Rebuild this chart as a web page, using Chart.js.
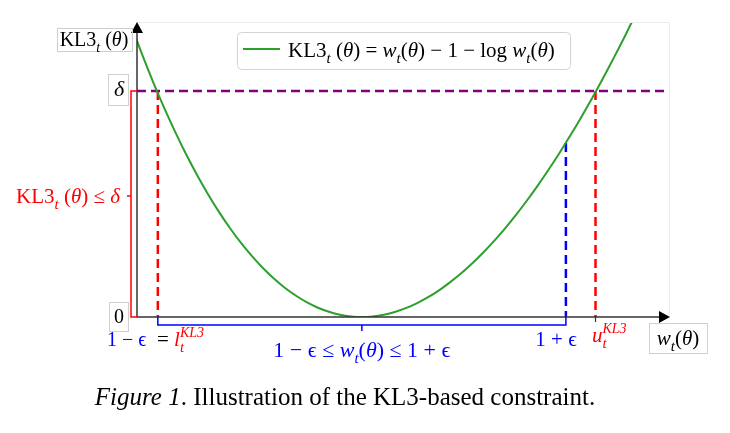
<!DOCTYPE html>
<html>
<head>
<meta charset="utf-8">
<script src="https://cdn.jsdelivr.net/npm/chart.js@4.4.1/dist/chart.umd.min.js"></script>
<style>
  body { margin: 0; background: #fff; }
  #wrap { width: 730px; height: 433px; position: relative; }
</style>
</head>
<body>
<div id="wrap"><canvas id="myChart"></canvas></div>
<script>
// curve: w_t(theta) -> KL3_t(theta)
const wValues = [0.79, 0.80, 0.81, 0.82, 0.83, 0.84, 0.85, 0.86, 0.87, 0.88, 0.89, 0.90, 0.91, 0.92, 0.93, 0.94, 0.95, 0.96, 0.97, 0.98, 0.99,
                 1.00, 1.01, 1.02, 1.03, 1.04, 1.05, 1.06, 1.07, 1.08, 1.09, 1.10, 1.11, 1.12, 1.13, 1.14, 1.15, 1.16, 1.17, 1.18, 1.19,
                 1.20, 1.21, 1.22, 1.23, 1.24, 1.25];
const klValues = [0.02572, 0.02314, 0.02072, 0.01845, 0.01633, 0.01435, 0.01252, 0.01082, 0.00926, 0.00783, 0.00653, 0.00536, 0.00431,
                  0.00338, 0.00257, 0.00188, 0.00129, 0.00082, 0.00046, 0.00020, 0.00005, 0, 0.00005, 0.00020, 0.00044, 0.00078,
                  0.00121, 0.00173, 0.00234, 0.00304, 0.00382, 0.00469, 0.00564, 0.00667, 0.00778, 0.00897, 0.01024, 0.01158,
                  0.01300, 0.01449, 0.01605, 0.01768, 0.01938, 0.02115, 0.02299, 0.02489, 0.02686];

const delta = 0.02;
const lowerW = 0.814;      // 1 - eps = l_t
const upperW = 1.213;      // u_t
const epsHighW = 1.186;    // 1 + eps
const klAtEpsHigh = 0.0154;
const xRange = [0.795, 1.28];
const yRange = [0, 0.0261];

const SERIF = '"Liberation Serif", "DejaVu Serif", serif';
const RED = '#ff0000', BLUE = '#0000ff', GREEN = '#2ca02c', PURPLE = '#800080';

function drawRich(ctx, parts, x, y, align, size, color) {
  const fnt = p => (p.it ? 'italic ' : '') + Math.round(size * (p.sc || 1)) + 'px ' + SERIF;
  const wOf = p => { ctx.font = fnt(p); return ctx.measureText(p.t).width; };
  const adv = p => p.stack ? Math.max(...p.stack.map(wOf)) : wOf(p);
  const total = parts.reduce((s, p) => s + adv(p), 0);
  let cx = align === 'center' ? x - total / 2 : align === 'right' ? x - total : x;
  ctx.textAlign = 'left';
  ctx.textBaseline = 'alphabetic';
  parts.forEach(p => {
    (p.stack || [p]).forEach(q => {
      ctx.font = fnt(q);
      ctx.fillStyle = q.c || p.c || color;
      ctx.fillText(q.t, cx, y + (q.dy || 0) * size);
    });
    cx += adv(p);
  });
  return total;
}

const sub = t => ({ t: t, it: 1, sc: 0.7, dy: 0.28 });
const sup = t => ({ t: t, it: 1, sc: 0.65, dy: -0.45 });
const klText = [{ t: 'KL3' }, sub('t'), { t: ' (' }, { t: 'θ', it: 1 }, { t: ')' }];
const wText = [{ t: 'w', it: 1 }, sub('t'), { t: '(' }, { t: 'θ', it: 1 }, { t: ')' }];

function box(ctx, x1, y1, x2, y2) {
  ctx.strokeStyle = '#cfcfcf';
  ctx.lineWidth = 1;
  ctx.strokeRect(x1 + 0.5, y1 + 0.5, x2 - x1, y2 - y1);
}

function line(ctx, pts, color, width) {
  ctx.strokeStyle = color;
  ctx.lineWidth = width;
  ctx.setLineDash([]);
  ctx.beginPath();
  pts.forEach((p, i) => i ? ctx.lineTo(p[0], p[1]) : ctx.moveTo(p[0], p[1]));
  ctx.stroke();
}

const annotate = {
  id: 'annotate',
  afterDraw(chart) {
    const ctx = chart.ctx, ca = chart.chartArea;
    const px = v => chart.scales.x.getPixelForValue(v);
    const py = v => chart.scales.y.getPixelForValue(v);
    const x0 = ca.left, y0 = py(0), yD = py(delta);
    ctx.save();

    // faint frame
    line(ctx, [[x0, ca.top + 0.5], [ca.right + 0.5, ca.top + 0.5], [ca.right + 0.5, y0]], '#ececec', 1);

    // axes with arrows
    line(ctx, [[x0, y0], [x0, ca.top + 8]], '#333', 1.5);
    line(ctx, [[x0, y0], [ca.right - 8, y0]], '#333', 1.5);
    ctx.fillStyle = '#000';
    ctx.beginPath();
    ctx.moveTo(x0, ca.top); ctx.lineTo(x0 - 6, ca.top + 11); ctx.lineTo(x0 + 6, ca.top + 11); ctx.closePath(); ctx.fill();
    ctx.beginPath();
    ctx.moveTo(ca.right + 1, y0); ctx.lineTo(ca.right - 10, y0 - 6); ctx.lineTo(ca.right - 10, y0 + 6); ctx.closePath(); ctx.fill();

    // red bracket on the y side
    line(ctx, [[x0, yD], [x0 - 6, yD], [x0 - 6, y0], [x0, y0]], RED, 1.5);
    const yMid = (yD + y0) / 2 - 8;
    line(ctx, [[x0 - 6, yMid], [x0 - 10, yMid]], RED, 1.5);
    drawRich(ctx, klText.concat([{ t: ' ≤ ' }, { t: 'δ', it: 1 }]), 120, yMid + 7, 'right', 21, RED);

    // blue bracket under the x axis
    const xl = px(lowerW), xh = px(epsHighW);
    line(ctx, [[xl, y0], [xl, y0 + 8], [xh, y0 + 8], [xh, y0]], BLUE, 1.5);
    line(ctx, [[px(1), y0 + 8], [px(1), y0 + 14]], BLUE, 1.5);
    line(ctx, [[px(upperW), y0], [px(upperW), y0 + 5]], '#333', 1.2);

    // y labels
    box(ctx, 57, 28, 132, 51);
    drawRich(ctx, klText, 94, 46, 'center', 20, '#000');
    box(ctx, 108, 74, 128, 105);
    drawRich(ctx, [{ t: 'δ', it: 1 }], 119, 96, 'center', 22, '#000');
    box(ctx, 109, 302, 128, 331);
    drawRich(ctx, [{ t: '0' }], 119, 323, 'center', 20, '#000');

    // x labels
    drawRich(ctx, [{ t: '1 − ϵ' }], 107, 346, 'left', 20, BLUE);
    drawRich(ctx, [{ t: '= ', c: '#000' }, { t: 'l', it: 1 }, { stack: [sup('KL3'), sub('t')] }], 157, 346, 'left', 21, RED);
    drawRich(ctx, [{ t: '1 − ϵ ≤ ' }].concat(wText, [{ t: ' ≤ 1 + ϵ' }]), px(1), 357, 'center', 22, BLUE);
    drawRich(ctx, [{ t: '1 + ϵ' }], 556, 346, 'center', 21, BLUE);
    drawRich(ctx, [{ t: 'u', it: 1 }, { stack: [sup('KL3'), sub('t')] }], 592, 342, 'left', 21, RED);
    box(ctx, 649, 323, 707, 353);
    drawRich(ctx, wText, 678, 345, 'center', 21, '#000');

    // legend
    ctx.strokeStyle = '#d4d4d4';
    ctx.lineWidth = 1;
    ctx.beginPath();
    ctx.roundRect(237.5, 32.5, 333, 37, 4);
    ctx.stroke();
    line(ctx, [[243, 49], [280, 49]], GREEN, 2);
    drawRich(ctx, klText.concat([{ t: ' = ' }], wText, [{ t: ' − 1 − log ' }], wText), 288, 57, 'left', 21, '#000');

    // caption
    drawRich(ctx, [{ t: 'Figure 1', it: 1 }, { t: '. Illustration of the KL3-based constraint.' }], 345, 405, 'center', 25, '#000');
    ctx.restore();
  }
};

const segment = (x1, y1, x2, y2) => [{ x: x1, y: y1 }, { x: x2, y: y2 }];

const ctx = document.getElementById('myChart').getContext('2d');
const myChart = new Chart(ctx, {
  type: 'line',
  data: {
    datasets: [
      {
        data: wValues.map((w, i) => ({ x: w, y: klValues[i] })),
        borderColor: GREEN, borderWidth: 2, pointRadius: 0, tension: 0.3
      },
      {
        data: segment(xRange[0], delta, xRange[1], delta),
        borderColor: PURPLE, borderWidth: 2.5, borderDash: [9, 5], pointRadius: 0
      },
      {
        data: segment(lowerW, delta, lowerW, 0),
        borderColor: RED, borderWidth: 2.5, borderDash: [9, 5], pointRadius: 0
      },
      {
        data: segment(upperW, delta, upperW, 0),
        borderColor: RED, borderWidth: 2.5, borderDash: [9, 5], pointRadius: 0
      },
      {
        data: segment(epsHighW, klAtEpsHigh, epsHighW, 0),
        borderColor: BLUE, borderWidth: 2.5, borderDash: [9, 5], pointRadius: 0
      }
    ]
  },
  options: {
    responsive: true,
    maintainAspectRatio: false,
    animation: false,
    layout: { padding: { left: 137, right: 61, top: 22, bottom: 116 } },
    scales: {
      x: { type: 'linear', min: xRange[0], max: xRange[1], display: false },
      y: { type: 'linear', min: yRange[0], max: yRange[1], display: false }
    },
    plugins: {
      legend: { display: false },
      tooltip: { enabled: false }
    }
  },
  plugins: [annotate]
});
</script>
</body>
</html>
